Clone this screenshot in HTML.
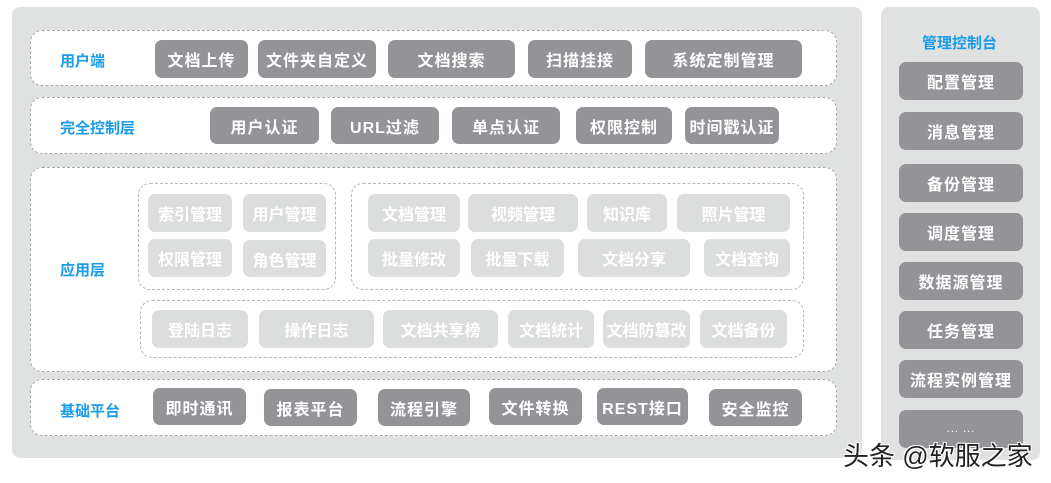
<!DOCTYPE html>
<html><head><meta charset="utf-8"><style>
*{margin:0;padding:0;box-sizing:border-box}
body{width:1051px;height:483px;background:#fff;position:relative;overflow:hidden;font-family:"Liberation Sans","Noto Sans CJK SC",sans-serif}
div{position:absolute}
.panel{background:#e0e1e1;border-radius:8px}
.row{background:#fff;border:1.5px dashed #a9aaad;border-radius:12px}
.grp{border:1.5px dashed #b5b6b8;border-radius:12px}
.lab{color:#1a9be8;font-weight:bold;font-size:15px}
.b{background:#939398;color:#fff;border-radius:7px;font-size:16px;font-weight:bold;display:flex;align-items:center;justify-content:center;white-space:nowrap;letter-spacing:1px}
.l{background:#dcdddd;color:#fff;border-radius:7px;font-size:16px;font-weight:bold;display:flex;align-items:center;justify-content:center;white-space:nowrap}
</style></head><body>
<div class="panel" style="left:12px;top:7px;width:850px;height:451px"></div>
<div class="panel" style="left:881px;top:7px;width:159px;height:453px"></div>

<div class="row" style="left:30px;top:30px;width:807px;height:56px"></div>
<div class="lab" style="left:60px;top:50px">用户端</div>
<div class="b" style="left:155px;top:40px;width:93px;height:38px">文档上传</div>
<div class="b" style="left:258px;top:40px;width:118px;height:38px">文件夹自定义</div>
<div class="b" style="left:388px;top:40px;width:127px;height:38px">文档搜索</div>
<div class="b" style="left:528px;top:40px;width:104px;height:38px">扫描挂接</div>
<div class="b" style="left:645px;top:40px;width:157px;height:38px">系统定制管理</div>

<div class="row" style="left:30px;top:97px;width:807px;height:57px"></div>
<div class="lab" style="left:60px;top:117px">完全控制层</div>
<div class="b" style="left:210px;top:107px;width:109px;height:37px">用户认证</div>
<div class="b" style="left:331px;top:107px;width:108px;height:37px">URL过滤</div>
<div class="b" style="left:452px;top:107px;width:108px;height:37px">单点认证</div>
<div class="b" style="left:576px;top:107px;width:96px;height:37px">权限控制</div>
<div class="b" style="left:685px;top:107px;width:94px;height:37px">时间戳认证</div>

<div class="row" style="left:30px;top:167px;width:807px;height:205px"></div>
<div class="lab" style="left:60px;top:259px">应用层</div>
<div class="grp" style="left:138px;top:183px;width:198px;height:107px"></div>
<div class="l" style="left:148px;top:194px;width:84px;height:38px">索引管理</div>
<div class="l" style="left:243px;top:194px;width:83px;height:38px">用户管理</div>
<div class="l" style="left:148px;top:239px;width:84px;height:38px">权限管理</div>
<div class="l" style="left:243px;top:240px;width:83px;height:37px">角色管理</div>
<div class="grp" style="left:351px;top:183px;width:453px;height:107px"></div>
<div class="l" style="left:368px;top:194px;width:92px;height:38px">文档管理</div>
<div class="l" style="left:468px;top:194px;width:110px;height:38px">视频管理</div>
<div class="l" style="left:587px;top:194px;width:80px;height:38px">知识库</div>
<div class="l" style="left:677px;top:194px;width:113px;height:38px">照片管理</div>
<div class="l" style="left:368px;top:239px;width:92px;height:38px">批量修改</div>
<div class="l" style="left:471px;top:239px;width:93px;height:38px">批量下载</div>
<div class="l" style="left:578px;top:239px;width:112px;height:38px">文档分享</div>
<div class="l" style="left:704px;top:239px;width:86px;height:38px">文档查询</div>
<div class="grp" style="left:140px;top:300px;width:664px;height:58px"></div>
<div class="l" style="left:152px;top:310px;width:96px;height:38px">登陆日志</div>
<div class="l" style="left:259px;top:310px;width:115px;height:38px">操作日志</div>
<div class="l" style="left:383px;top:310px;width:115px;height:38px">文档共享榜</div>
<div class="l" style="left:508px;top:310px;width:86px;height:38px">文档统计</div>
<div class="l" style="left:603px;top:310px;width:87px;height:38px">文档防篡改</div>
<div class="l" style="left:700px;top:310px;width:87px;height:38px">文档备份</div>

<div class="row" style="left:30px;top:379px;width:807px;height:57px"></div>
<div class="lab" style="left:60px;top:400px">基础平台</div>
<div class="b" style="left:153px;top:388px;width:93px;height:37px">即时通讯</div>
<div class="b" style="left:264px;top:389px;width:93px;height:37px">报表平台</div>
<div class="b" style="left:378px;top:389px;width:92px;height:37px">流程引擎</div>
<div class="b" style="left:489px;top:388px;width:93px;height:37px">文件转换</div>
<div class="b" style="left:597px;top:388px;width:91px;height:37px">REST接口</div>
<div class="b" style="left:709px;top:389px;width:93px;height:37px">安全监控</div>

<div class="lab" style="left:922px;top:32px">管理控制台</div>
<div class="b" style="left:899px;top:62px;width:124px;height:38px">配置管理</div>
<div class="b" style="left:899px;top:112px;width:124px;height:38px">消息管理</div>
<div class="b" style="left:899px;top:164px;width:124px;height:38px">备份管理</div>
<div class="b" style="left:899px;top:213px;width:124px;height:38px">调度管理</div>
<div class="b" style="left:899px;top:262px;width:124px;height:38px">数据源管理</div>
<div class="b" style="left:899px;top:311px;width:124px;height:38px">任务管理</div>
<div class="b" style="left:899px;top:360px;width:124px;height:38px">流程实例管理</div>
<div class="b" style="left:899px;top:410px;width:124px;height:38px;font-size:11px;font-weight:normal">... ...</div>

<div style="left:843px;top:436px;font-size:26px;color:#222;text-shadow:1px 1px 0 #fff,-1px -1px 0 #fff,1px -1px 0 #fff,-1px 1px 0 #fff;white-space:nowrap">头条 @软服之家</div>
</body></html>
